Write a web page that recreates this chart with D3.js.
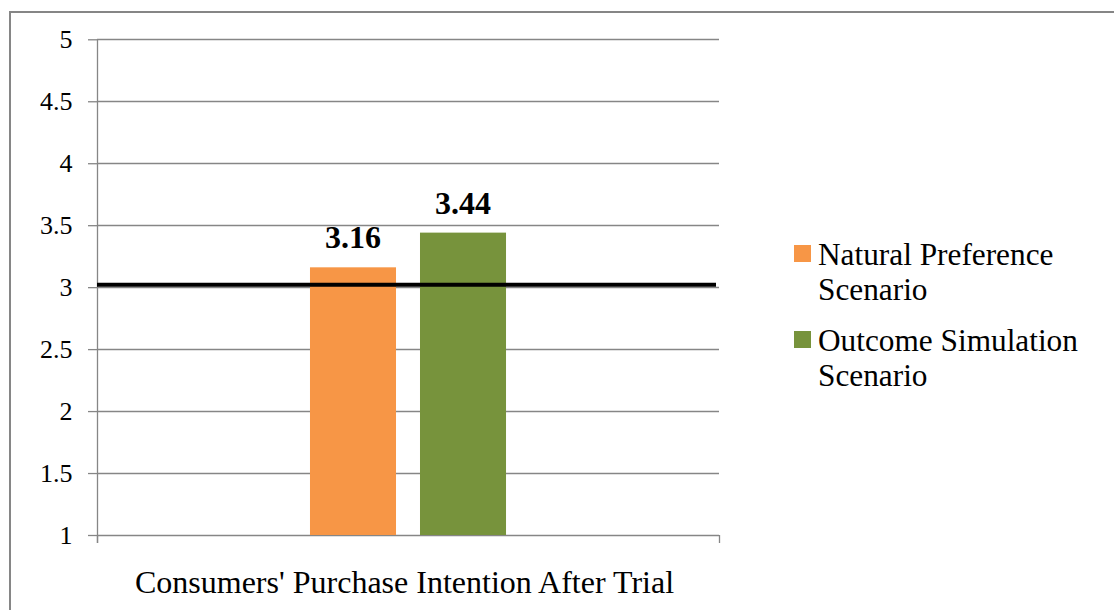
<!DOCTYPE html>
<html>
<head>
<meta charset="utf-8">
<script src="https://cdn.jsdelivr.net/npm/d3@7"></script>
<style>
  html, body { margin: 0; padding: 0; background: #fff; }
  svg { display: block; }
</style>
</head>
<body>
<svg id="chart" width="1114" height="610"></svg>
<script>
// Chart data
const categories = ["Consumers' Purchase Intention After Trial"];
const seriesNames = ["Natural Preference Scenario", "Outcome Simulation Scenario"];
const seriesValues = [3.16, 3.44];
const seriesColors = ["#F79646", "#77933C"];
const legendLines = [["Natural Preference", "Scenario"], ["Outcome Simulation", "Scenario"]];
const yTicks = [1, 1.5, 2, 2.5, 3, 3.5, 4, 4.5, 5];
const referenceValue = 3.02;

const FONT = "'Liberation Serif', 'Times New Roman', serif";
const svg = d3.select("#chart");
const W = 1114, H = 610;
const plot = { left: 97, right: 719, top: 39.3, bottom: 535 };
const gridColor = "#868686";

// Outer frame (right and bottom edges fall outside the canvas)
svg.append("rect")
  .attr("x", 10).attr("y", 12)
  .attr("width", W + 20).attr("height", H + 20)
  .attr("fill", "none").attr("stroke", gridColor).attr("stroke-width", 2);

const y = d3.scaleLinear().domain([1, 5]).range([plot.bottom, plot.top]);
const xCat = d3.scaleBand().domain(categories).range([plot.left, plot.right]);
const xSeries = d3.scaleBand().domain(seriesNames)
  .range([0, xCat.bandwidth()])
  .paddingInner(0.218).paddingOuter(1.936);

// Horizontal gridlines
svg.append("g").selectAll("line")
  .data(yTicks.filter(d => d !== 1))
  .join("line")
  .attr("x1", plot.left).attr("x2", plot.right)
  .attr("y1", d => Math.round(y(d)) + 0.5).attr("y2", d => Math.round(y(d)) + 0.5)
  .attr("stroke", gridColor).attr("stroke-width", 1.3);

// Y axis
const yAxis = svg.append("g")
  .attr("transform", `translate(${plot.left},0)`)
  .call(d3.axisLeft(y).tickValues(yTicks).tickSize(9).tickPadding(15.5)
    .tickFormat(d => String(d)));
yAxis.select(".domain").remove();
yAxis.selectAll(".tick line").attr("stroke", gridColor).attr("stroke-width", 1.3);
yAxis.selectAll(".tick text")
  .style("font-family", FONT)
  .style("font-size", "26px")
  .attr("fill", "#000");
svg.append("line")
  .attr("x1", plot.left + 0.5).attr("x2", plot.left + 0.5)
  .attr("y1", plot.top).attr("y2", plot.bottom + 8)
  .attr("stroke", gridColor).attr("stroke-width", 1.3);

// X axis baseline and category boundary ticks
svg.append("line")
  .attr("x1", plot.left).attr("x2", plot.right)
  .attr("y1", plot.bottom + 0.5).attr("y2", plot.bottom + 0.5)
  .attr("stroke", gridColor).attr("stroke-width", 1.3);
const bounds = [];
categories.forEach(c => { bounds.push(xCat(c)); bounds.push(xCat(c) + xCat.bandwidth()); });
svg.append("g").selectAll("line")
  .data(Array.from(new Set(bounds)))
  .join("line")
  .attr("x1", d => d + 0.5).attr("x2", d => d + 0.5)
  .attr("y1", plot.bottom).attr("y2", plot.bottom + 8)
  .attr("stroke", gridColor).attr("stroke-width", 1.3);

// Category label
svg.append("g").selectAll("text")
  .data(categories)
  .join("text")
  .attr("x", d => xCat(d) + xCat.bandwidth() / 2 - 3.5)
  .attr("y", 593)
  .attr("text-anchor", "middle")
  .style("font-family", FONT)
  .style("font-size", "32px")
  .attr("fill", "#000")
  .text(d => d);

// Bars
const barData = seriesNames.map((s, i) => ({ series: s, value: seriesValues[i], color: seriesColors[i], cat: categories[0] }));
svg.append("g").selectAll("rect")
  .data(barData)
  .join("rect")
  .attr("x", d => xCat(d.cat) + xSeries(d.series))
  .attr("width", xSeries.bandwidth())
  .attr("y", d => y(d.value))
  .attr("height", d => y(1) - y(d.value))
  .attr("fill", d => d.color);

// Value labels
svg.append("g").selectAll("text")
  .data(barData)
  .join("text")
  .attr("x", d => xCat(d.cat) + xSeries(d.series) + xSeries.bandwidth() / 2)
  .attr("y", d => y(d.value) - 19)
  .attr("text-anchor", "middle")
  .style("font-family", FONT)
  .style("font-size", "32px")
  .style("font-weight", "bold")
  .attr("fill", "#000")
  .text(d => d.value.toFixed(2));

// Reference line
svg.append("line")
  .attr("x1", plot.left).attr("x2", plot.right - 3)
  .attr("y1", y(referenceValue)).attr("y2", y(referenceValue))
  .attr("stroke", "#000").attr("stroke-width", 4);

// Legend
const legend = svg.append("g").selectAll("g")
  .data(seriesNames)
  .join("g")
  .attr("transform", (d, i) => `translate(794,${245 + i * 86})`);
legend.append("rect")
  .attr("width", 17).attr("height", 17)
  .attr("fill", (d, i) => seriesColors[i]);
legend.append("text")
  .attr("x", 24).attr("y", 20)
  .style("font-family", FONT)
  .style("font-size", "31.3px")
  .attr("fill", "#000")
  .selectAll("tspan")
  .data((d, i) => legendLines[i])
  .join("tspan")
  .attr("x", 24)
  .attr("dy", (d, j) => j === 0 ? 0 : 35)
  .text(d => d);
</script>
</body>
</html>
